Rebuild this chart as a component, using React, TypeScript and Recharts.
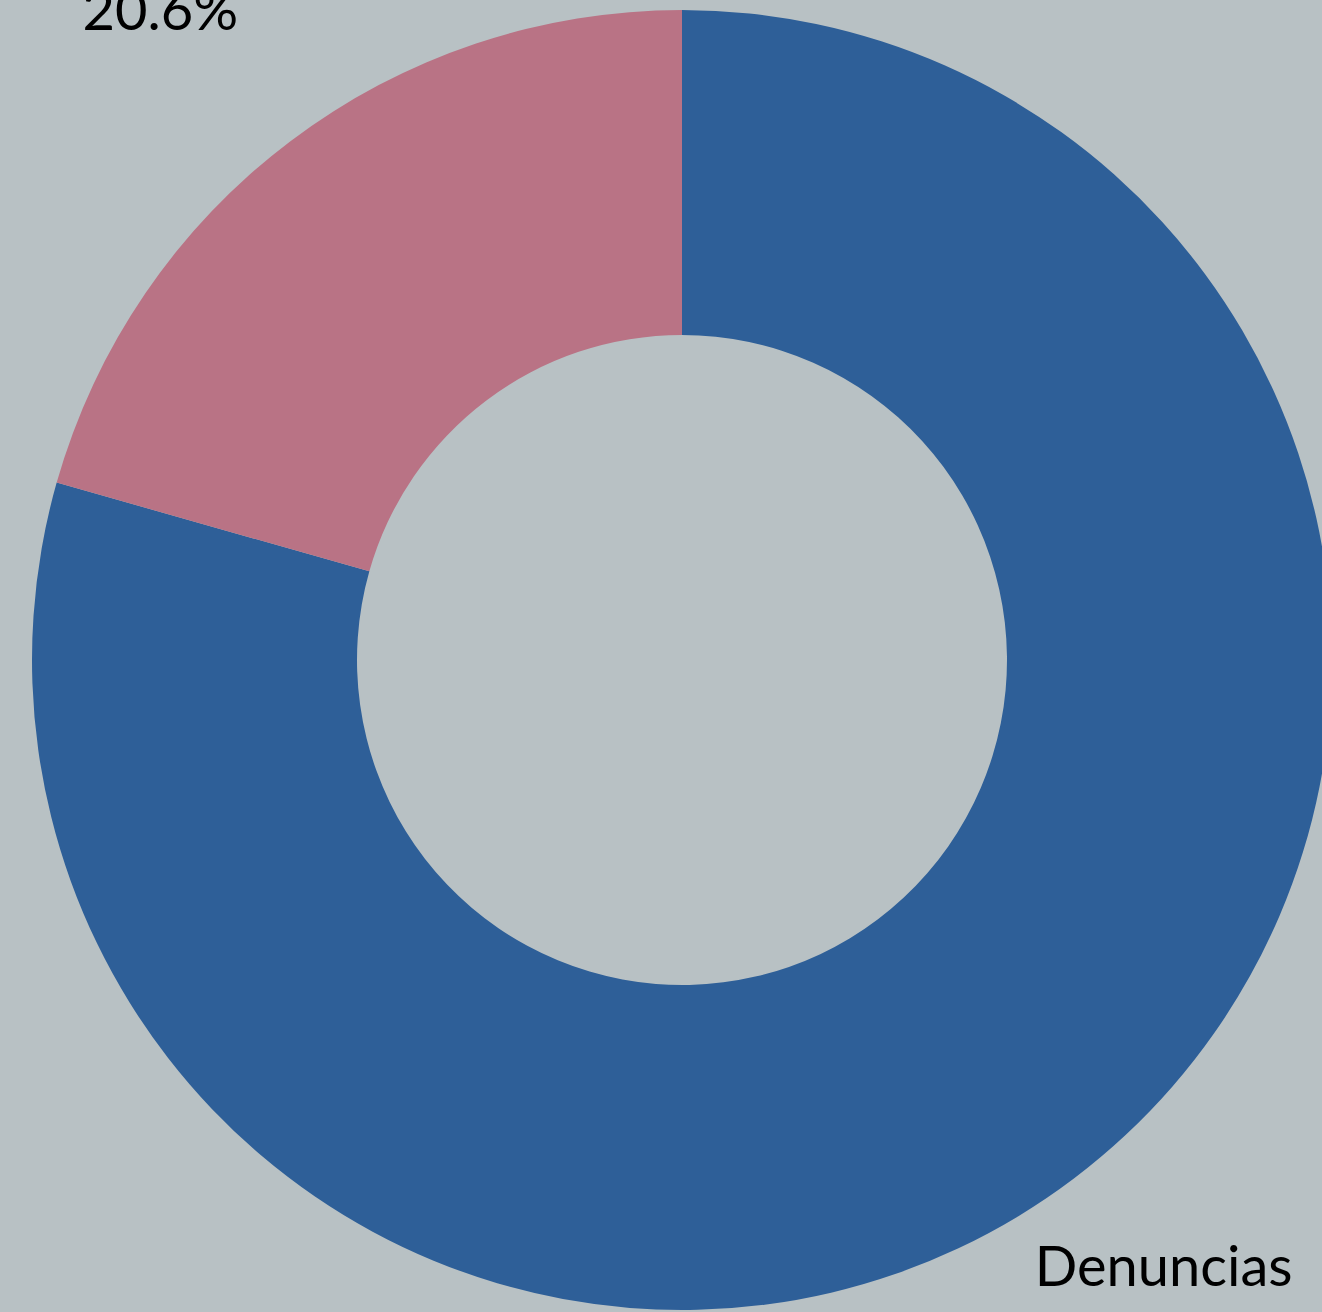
import { PieChart, Pie, Cell } from 'recharts';

const categories = ['Denuncias', 'Querellas'];
const shares = [79.4, 20.6];
const colors = ['#2e5f98', '#b97385'];

const data = categories.map((name, i) => ({ name, value: shares[i] }));

const RADIAN = Math.PI / 180;

// two-line label: name on top, percent below
function renderLabel(props: any) {
  const { cx, cy, midAngle, outerRadius, name, value } = props;
  const r = outerRadius * 1.28;
  const x = cx + r * Math.cos(-midAngle * RADIAN) - 20;
  const y = cy + r * Math.sin(-midAngle * RADIAN) - 26;
  return (
    <text
      x={x}
      y={y}
      textAnchor="middle"
      fill="#000000"
      style={{ fontFamily: 'Lato, sans-serif', fontSize: 56 }}
    >
      <tspan x={x} dy={-12}>{name}</tspan>
      <tspan x={x} dy={72}>{`${value.toFixed(1)}%`}</tspan>
    </text>
  );
}

export default function App() {
  return (
    <div
      style={{
        position: 'absolute',
        left: 0,
        top: 0,
        width: 1322,
        height: 1312,
        background: '#b8c1c4',
        overflow: 'hidden',
      }}
    >
      <PieChart width={1322} height={1312} margin={{ top: 0, right: 0, bottom: 0, left: 0 }}>
        <Pie
          data={data}
          dataKey="value"
          nameKey="name"
          cx={682}
          cy={660}
          innerRadius={325}
          outerRadius={650}
          startAngle={90}
          endAngle={-270}
          stroke="none"
          label={renderLabel}
          labelLine={false}
          isAnimationActive={false}
        >
          {data.map((d, i) => (
            <Cell key={d.name} fill={colors[i]} />
          ))}
        </Pie>
      </PieChart>
    </div>
  );
}
